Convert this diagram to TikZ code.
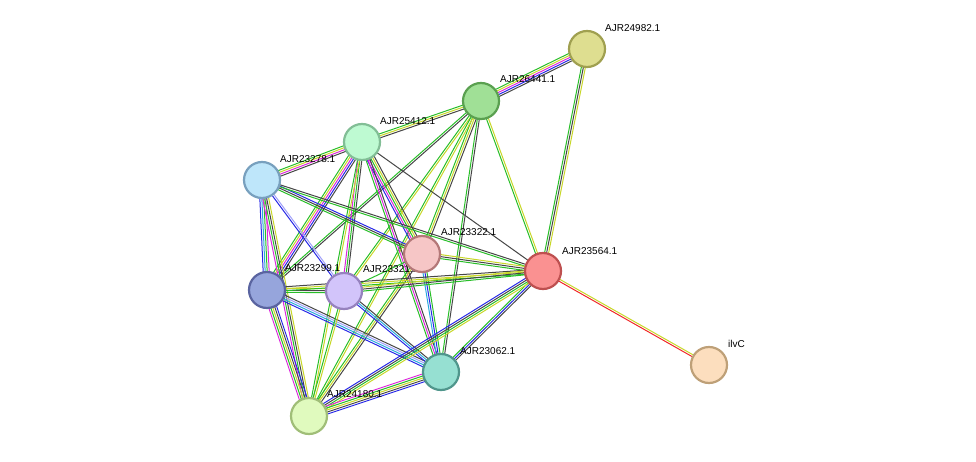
\documentclass[tikz,border=0pt]{standalone}
\usepackage{fontspec}
\setmainfont{Liberation Sans}
\usetikzlibrary{calc}
\definecolor{eg}{RGB}{40,190,40}
\definecolor{ey}{RGB}{200,215,40}
\definecolor{ek}{RGB}{70,70,70}
\definecolor{em}{RGB}{220,40,220}
\definecolor{eb}{RGB}{40,40,230}
\definecolor{ec}{RGB}{40,170,220}
\definecolor{el}{RGB}{160,160,250}
\definecolor{er}{RGB}{240,40,40}
\tikzset{
  prot/.style={circle,minimum size=36pt,inner sep=0pt,line width=2.2pt},
  lab/.style={anchor=west,font=\fontsize{10}{11}\selectfont,inner sep=0pt},
}
\newcommand\lnk[3]{%
  \foreach \c [count=\n] in {#3}{\xdef\nlen{\n}}%
  \foreach \c [count=\i] in {#3}{%
    \pgfmathsetmacro\off{(\i-(\nlen+1)/2)*2}%
    \draw[\c,line width=1pt] ($(#1.center)!\off pt!90:(#2.center)$) -- ($(#2.center)!\off pt!-90:(#1.center)$);}}
\begin{document}
\begin{tikzpicture}[x=1pt,y=-1pt]
\useasboundingbox (0,0) rectangle (976,462);
% coordinates of the proteins
\coordinate (p24982) at (587,49);
\coordinate (p26441) at (481,101);
\coordinate (p25412) at (362,142);
\coordinate (p23278) at (262,180);
\coordinate (p23322) at (422,254);
\coordinate (p23564) at (543,271);
\coordinate (p23299) at (267,290);
\coordinate (p23321) at (344,291);
\coordinate (p23062) at (441,372);
\coordinate (p24180) at (309,416);
\coordinate (pilvC) at (709,365);
% edges
\lnk{p24982}{p26441}{eg,ey,em,eb,ek}
\lnk{p24982}{p23564}{eg,ek,ey}
\lnk{p26441}{p25412}{eg,ey,ek}
\lnk{p26441}{p23299}{eg,ek}
\lnk{p26441}{p23321}{eg,ey}
\lnk{p26441}{p23322}{eg,ey,ek}
\lnk{p26441}{p23564}{eg,ey}
\lnk{p26441}{p23062}{eg,ek}
\lnk{p26441}{p24180}{eg,ey}
\lnk{p25412}{p23278}{eg,ey,em,ek}
\lnk{p25412}{p23299}{eg,ey,em,eb,ek}
\lnk{p25412}{p23321}{em,eg,ek}
\lnk{p25412}{p23322}{eb,em,eg,ey,ek}
\lnk{p25412}{p23564}{ek}
\lnk{p25412}{p23062}{eg,em,ek}
\lnk{p25412}{p24180}{eg,ey}
\lnk{p23278}{p23299}{eb,ec,eg,em}
\lnk{p23278}{p23321}{eb,el}
\lnk{p23278}{p23322}{eg,ek,eb}
\lnk{p23278}{p23564}{eg,ek}
\lnk{p23278}{p24180}{em,eg,ek,ey}
\lnk{p23322}{p23564}{eg,ek,ey}
\lnk{p23322}{p23062}{ec,eb,eg}
\lnk{p23322}{p24180}{eg,ey,ek}
\lnk{p23321}{p23322}{eg}
\lnk{p23299}{p23321}{eg,ek,ey}
\lnk{p23299}{p23564}{eg,ey,ek}
\lnk{p23299}{p23062}{eb,ec,el,ek}
\lnk{p23299}{p24180}{em,eg,ey,ek,eb}
\lnk{p23321}{p23564}{eg,ek,ey}
\lnk{p23321}{p23062}{eb,ec,ek}
\lnk{p23321}{p24180}{eg,ey}
\lnk{p23564}{p23062}{eg,eb,ek}
\lnk{p23564}{p24180}{eb,ek,eg,ey}
\lnk{p23062}{p24180}{em,eg,ey,ek,eb}
\lnk{p23564}{pilvC}{er,ey}
% labels
\node[lab] (l24982) at (605,28) {AJR24982.1};
\node[lab] (l26441) at (500,79) {AJR26441.1};
\node[lab] (l25412) at (380,121) {AJR25412.1};
\node[lab] (l23278) at (280,159) {AJR23278.1};
\node[lab] (l23322) at (441,232) {AJR23322.1};
\node[lab] (l23564) at (562,251) {AJR23564.1};
\node[lab] (l23299) at (285,268) {AJR23299.1};
\node[lab] (l23321) at (363,269) {AJR23321.1};
\node[lab] (l23062) at (460,351) {AJR23062.1};
\node[lab] (l24180) at (327,394) {AJR24180.1};
\node[lab] (lilvC) at (728,344) {ilvC};
% proteins
\node[prot,draw={rgb,255:red,160;green,160;blue,80},fill={rgb,255:red,222;green,222;blue,144}] (n24982) at (p24982) {};
\node[prot,draw={rgb,255:red,90;green,160;blue,80},fill={rgb,255:red,160;green,224;blue,150}] (n26441) at (p26441) {};
\node[prot,draw={rgb,255:red,130;green,190;blue,150},fill={rgb,255:red,190;green,250;blue,210}] (n25412) at (p25412) {};
\node[prot,draw={rgb,255:red,120;green,160;blue,190},fill={rgb,255:red,190;green,230;blue,250}] (n23278) at (p23278) {};
\node[prot,draw={rgb,255:red,180;green,120;blue,120},fill={rgb,255:red,246;green,198;blue,198}] (n23322) at (p23322) {};
\node[prot,draw={rgb,255:red,190;green,80;blue,80},fill={rgb,255:red,250;green,145;blue,145}] (n23564) at (p23564) {};
\node[prot,draw={rgb,255:red,90;green,100;blue,160},fill={rgb,255:red,150;green,165;blue,220}] (n23299) at (p23299) {};
\node[prot,draw={rgb,255:red,150;green,130;blue,190},fill={rgb,255:red,210;green,196;blue,250}] (n23321) at (p23321) {};
\node[prot,draw={rgb,255:red,80;green,150;blue,140},fill={rgb,255:red,150;green,224;blue,210}] (n23062) at (p23062) {};
\node[prot,draw={rgb,255:red,160;green,190;blue,120},fill={rgb,255:red,224;green,250;blue,190}] (n24180) at (p24180) {};
\node[prot,draw={rgb,255:red,190;green,160;blue,120},fill={rgb,255:red,252;green,222;blue,190}] (nilvC) at (pilvC) {};
\end{tikzpicture}
\end{document}
